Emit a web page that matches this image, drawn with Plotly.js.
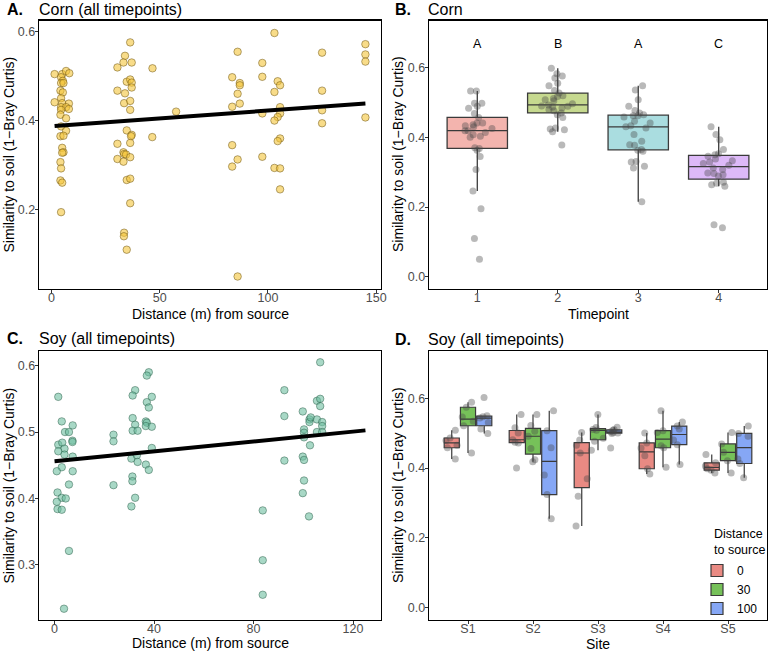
<!DOCTYPE html>
<html><head><meta charset="utf-8">
<script src="https://cdn.plot.ly/plotly-3.0.1.min.js"></script>
<style>html,body{margin:0;padding:0;background:#fff}#chart{width:772px;height:652px}</style>
</head><body><div id="chart"></div>
<script>
// ---------- Panel A: Corn (all timepoints) ----------
const cornDist = [1.5,5,6.8,8.3,4.5,5.3,4.5,5.6,4.2,5.3,4.5,1.5,5,8.1,4.5,6.8,8.1,4.5,4.2,6.8,4.5,6.8,4.2,5.6,5,5.6,5,4.2,4.5,4.2,5,4.5,
 36.4,34,33.3,37.1,30.5,34.8,36.4,37.1,37.1,30.5,34,33.6,36.4,36.4,34.8,37.1,36.8,36.4,30.5,33.3,33.6,34.5,30.5,33.3,36.4,34.8,36.4,36.4,33.6,33.5,34.8,
 46.7,46.6,57.6,
 103,86,97.4,83.5,97.4,87,87,104.5,105.6,86,103,83.5,87,97.4,105.6,105.6,104.5,103,83.5,105.6,104.5,86,83.5,97.4,103,105.6,105.6,86,
 125,125,125,125,145,145,145,145];
const cornSim = [0.504,0.504,0.511,0.506,0.497,0.489,0.484,0.484,0.467,0.463,0.45,0.441,0.439,0.438,0.43,0.43,0.426,0.424,0.413,0.405,0.387,0.377,0.365,0.366,0.339,0.329,0.328,0.307,0.293,0.266,0.261,0.195,
 0.575,0.545,0.530,0.530,0.519,0.487,0.492,0.485,0.474,0.467,0.461,0.439,0.444,0.424,0.378,0.368,0.365,0.350,0.348,0.329,0.325,0.324,0.314,0.308,0.318,0.267,0.270,0.215,0.149,0.141,0.111,
 0.517,0.363,0.420,
 0.596,0.554,0.529,0.497,0.498,0.484,0.479,0.488,0.479,0.460,0.464,0.431,0.438,0.416,0.430,0.416,0.408,0.400,0.345,0.360,0.354,0.313,0.297,0.319,0.294,0.293,0.246,0.051,
 0.552,0.467,0.423,0.394,0.571,0.548,0.532,0.407];
const cornLineX = [1.5,145];
const cornLineY = [0.388,0.438];

// ---------- Panel B: Corn by timepoint ----------
const timepoints = [1,2,3,4];
const tpLetters = ['A','B','A','C'];
const tp1 = [0.533,0.533,0.498,0.498,0.489,0.483,0.457,0.468,0.441,0.441,0.436,0.433,0.43,0.425,0.419,0.419,0.414,0.407,0.403,0.4,0.368,0.37,0.363,0.345,0.308,0.246,0.195,0.110,0.050];
const tp2 = [0.598,0.582,0.576,0.570,0.555,0.548,0.534,0.527,0.519,0.517,0.511,0.508,0.505,0.496,0.493,0.490,0.489,0.487,0.484,0.480,0.476,0.470,0.465,0.457,0.427,0.424,0.422,0.416,0.378];
const tp3 = [0.548,0.536,0.508,0.489,0.477,0.470,0.465,0.462,0.462,0.458,0.446,0.441,0.433,0.430,0.427,0.408,0.389,0.379,0.377,0.365,0.363,0.360,0.331,0.329,0.317,0.312,0.215];
const tp4 = [0.430,0.408,0.393,0.365,0.353,0.350,0.346,0.338,0.333,0.329,0.325,0.320,0.312,0.308,0.298,0.296,0.293,0.289,0.271,0.268,0.264,0.260,0.149,0.141];

// ---------- Panel C: Soy (all timepoints) ----------
const soyDist = [1.5,2.9,7.3,4.2,5.8,7.2,7.2,1.5,3.1,4,1.5,4,7.3,2.9,0.9,7.3,5.8,1.2,2.9,4.5,0.9,1.2,2.9,5.8,3.8,
 23.7,23.7,23.7,32.4,31.4,31.4,32.4,31.4,33.4,30.9,33.1,33.4,31.3,31.3,32.4,30.9,
 37.9,37.1,37.1,37.9,39.1,36.7,37.1,36.7,39.1,39.1,36.7,37.9,
 83.7,83.7,83.7,92.4,92.4,92.4,99.8,100.3,100.3,100.3,99.8,100.3,100.3,99.8,102.5,102.5,103,102.7,102.3,105.5,106.8,106.8,105.5,107.6,107.6,105.5,107.6,106.8];
const soySim = [0.553,0.516,0.51,0.5,0.5,0.487,0.485,0.481,0.484,0.475,0.471,0.466,0.463,0.447,0.441,0.441,0.421,0.409,0.401,0.4,0.395,0.384,0.383,0.321,0.234,
 0.496,0.486,0.42,0.563,0.555,0.521,0.511,0.502,0.502,0.46,0.465,0.455,0.433,0.426,0.401,0.388,
 0.59,0.585,0.545,0.537,0.553,0.516,0.514,0.509,0.508,0.476,0.451,0.443,
 0.382,0.307,0.255,0.563,0.524,0.457,0.531,0.504,0.499,0.492,0.463,0.458,0.427,0.408,0.519,0.515,0.522,0.48,0.373,0.547,0.55,0.539,0.519,0.515,0.509,0.5,0.5,0.605];
const soyLineX = [0,125];
const soyLineY = [0.456,0.5025];

// ---------- Panel D: Soy by site and distance ----------
const sites = ['S1','S2','S3','S4','S5'];
const distGroups = ['0','30','100'];
const d0Vals = [
 [0.426,0.458,0.465,0.479,0.486,0.508],
 [0.400,0.472,0.474,0.481,0.500,0.515,0.553],
 [0.234,0.319,0.369,0.443,0.465,0.480,0.502],
 [0.383,0.398,0.435,0.457,0.472,0.500],
 [0.386,0.394,0.398,0.406,0.415,0.439]];
const d30Vals = [
 [0.443,0.521,0.534,0.546,0.574,0.588],
 [0.418,0.424,0.456,0.491,0.505,0.522,0.553],
 [0.451,0.477,0.485,0.508,0.510,0.516,0.553],
 [0.402,0.458,0.464,0.502,0.507,0.564],
 [0.386,0.421,0.445,0.469,0.502]];
const d100Vals = [
 [0.499,0.512,0.530,0.543,0.547,0.550,0.602],
 [0.255,0.324,0.380,0.458,0.507,0.564],
 [0.457,0.499,0.500,0.502,0.504,0.508,0.510,0.517],
 [0.410,0.467,0.480,0.512,0.520,0.532],
 [0.372,0.413,0.426,0.491,0.499,0.520]];

// ---------- styles ----------
const FONT = 'Liberation Sans, Arial, Helvetica, sans-serif';
const W = 772, H = 652;
const px = v => v / W, py = v => 1 - v / H;
const tpFill = ['#F3B4AE','#C6D98F','#AADDE0','#DDB9F8'];
const dFill = {'0':'#E98A83','30':'#76C159','100':'#86A7F5'};
const ptColor = 'rgba(70,70,70,0.38)';

const traces = [];
// Panel A
traces.push({type:'scatter', mode:'markers', x:cornDist, y:cornSim, xaxis:'x', yaxis:'y',
  marker:{size:7.5, color:'rgba(243,196,58,0.6)', line:{color:'rgba(110,85,20,0.65)', width:0.8}}, showlegend:false, hoverinfo:'skip'});
traces.push({type:'scatter', mode:'lines', x:cornLineX, y:cornLineY, xaxis:'x', yaxis:'y',
  line:{color:'#000', width:4}, showlegend:false, hoverinfo:'skip'});
// Panel B
const tpData = [tp1,tp2,tp3,tp4];
timepoints.forEach((t,i)=>{
  traces.push({type:'box', y:tpData[i], x:tpData[i].map(()=>t), xaxis:'x2', yaxis:'y2',
    offsetgroup:'B', alignmentgroup:'B', width:0.75, quartilemethod:'inclusive', whiskerwidth:0,
    fillcolor:tpFill[i], line:{color:'#3a3a3a', width:1.3},
    boxpoints:'all', jitter:0.55, pointpos:0,
    marker:{color:ptColor, size:7, line:{width:0}}, showlegend:false, hoverinfo:'skip'});
});
// Panel C
traces.push({type:'scatter', mode:'markers', x:soyDist, y:soySim, xaxis:'x3', yaxis:'y3',
  marker:{size:7.5, color:'rgba(110,190,160,0.6)', line:{color:'rgba(40,90,70,0.6)', width:0.8}}, showlegend:false, hoverinfo:'skip'});
traces.push({type:'scatter', mode:'lines', x:soyLineX, y:soyLineY, xaxis:'x3', yaxis:'y3',
  line:{color:'#000', width:4}, showlegend:false, hoverinfo:'skip'});
// Panel D
const dVals = {'0':d0Vals,'30':d30Vals,'100':d100Vals};
distGroups.forEach(g=>{
  const xs=[], ys=[];
  sites.forEach((s,i)=>{ dVals[g][i].forEach(v=>{ xs.push(s); ys.push(v); }); });
  traces.push({type:'box', name:g, x:xs, y:ys, xaxis:'x4', yaxis:'y4',
    offsetgroup:g, alignmentgroup:'D', quartilemethod:'inclusive', whiskerwidth:0,
    fillcolor:dFill[g], line:{color:'#3a3a3a', width:1.2},
    boxpoints:'all', jitter:0.9, pointpos:0,
    marker:{color:ptColor, size:7, line:{width:0}}, hoverinfo:'skip'});
});

const axBase = {showline:true, mirror:true, linecolor:'#000', linewidth:1.4, ticks:'outside', ticklen:3,
  tickcolor:'#333', tickwidth:1, tickfont:{family:FONT, size:12.5, color:'#4d4d4d'}, showgrid:false, zeroline:false,
  fixedrange:true, ticklabelstandoff:-3};
const xExtra = {ticklabelstandoff:-6};
const xL = [px(39), px(381)], xR = [px(429), px(767)];
const yT = [py(289), py(20.5)], yB = [py(620), py(351)];

const layout = {
  width:W, height:H, margin:{l:0,r:0,t:0,b:0}, paper_bgcolor:'#fff', plot_bgcolor:'#fff',
  font:{family:FONT, color:'#000'},
  boxmode:'group', boxgap:0.25, boxgroupgap:0.07,
  xaxis: Object.assign({}, axBase, xExtra, {domain:xL, anchor:'y', range:[-5.7,152.2], tickvals:[0,50,100,150]}),
  yaxis: Object.assign({}, axBase, {domain:yT, anchor:'x', range:[0.023,0.624], tickvals:[0.2,0.4,0.6], tickformat:'.1f'}),
  xaxis2: Object.assign({}, axBase, xExtra, {domain:xR, anchor:'y2', range:[0.4,4.6], tickvals:timepoints}),
  yaxis2: Object.assign({}, axBase, {domain:yT, anchor:'x2', range:[-0.035,0.735], tickvals:[0,0.2,0.4,0.6], tickformat:'.1f'}),
  xaxis3: Object.assign({}, axBase, xExtra, {domain:xL, anchor:'y3', range:[-6.25,131.25], tickvals:[0,40,80,120]}),
  yaxis3: Object.assign({}, axBase, {domain:yB, anchor:'x3', range:[0.217,0.622], tickvals:[0.3,0.4,0.5,0.6], tickformat:'.1f'}),
  xaxis4: Object.assign({}, axBase, xExtra, {domain:xR, anchor:'y4', type:'category', categoryorder:'array', categoryarray:sites, range:[-0.6,4.6]}),
  yaxis4: Object.assign({}, axBase, {domain:yB, anchor:'x4', range:[-0.035,0.735], tickvals:[0,0.2,0.4,0.6], tickformat:'.1f'}),
  legend:{x:px(697), y:py(556), xanchor:'left', yanchor:'top', bgcolor:'rgba(0,0,0,0)',
    font:{family:FONT, size:12, color:'#000'}, tracegroupgap:0, itemwidth:30},
  annotations:[]
};
const ann = layout.annotations;
function txt(text, x, y, opts){ ann.push(Object.assign({text:text, x:x, y:y, xref:'paper', yref:'paper', showarrow:false,
  xanchor:'left', yanchor:'middle', font:{family:FONT, size:16, color:'#000'}}, opts||{})); }
// Panel titles
txt('<b>A.</b>', px(4.5), py(9)); txt('Corn (all timepoints)', px(37), py(9));
txt('<b>B.</b>', px(393), py(9)); txt('Corn', px(426), py(9));
txt('<b>C.</b>', px(4.5), py(338)); txt('Soy (all timepoints)', px(37), py(338));
txt('<b>D.</b>', px(393), py(339)); txt('Soy (all timepoints)', px(426), py(339));
// axis titles
const tf = {family:FONT, size:14, color:'#000'};
txt('Distance (m) from source', px(210), py(314), {xanchor:'center', font:tf});
txt('Timepoint', px(598), py(314), {xanchor:'center', font:tf});
txt('Distance (m) from source', px(210), py(642.5), {xanchor:'center', font:tf});
txt('Site', px(598), py(643.5), {xanchor:'center', font:tf});
const yt = 'Similarity to soil (1\u2212Bray Curtis)';
txt(yt, px(8), py(154.5), {xanchor:'center', textangle:-90, font:tf});
txt(yt, px(397.5), py(154.5), {xanchor:'center', textangle:-90, font:tf});
txt(yt, px(8), py(485.5), {xanchor:'center', textangle:-90, font:tf});
txt(yt, px(397.5), py(485.5), {xanchor:'center', textangle:-90, font:tf});
// legend title
txt('Distance<br>to source', px(712), py(541.5), {font:{family:FONT, size:12.5, color:'#000'}, align:'left'});
// significance letters
timepoints.forEach((t,i)=>{ ann.push({text:tpLetters[i], x:t, y:0.667, xref:'x2', yref:'y2', showarrow:false,
  font:{family:FONT, size:12.5, color:'#000'}}); });

Plotly.newPlot('chart', traces, layout, {displayModeBar:false, staticPlot:true});
</script></body></html>
